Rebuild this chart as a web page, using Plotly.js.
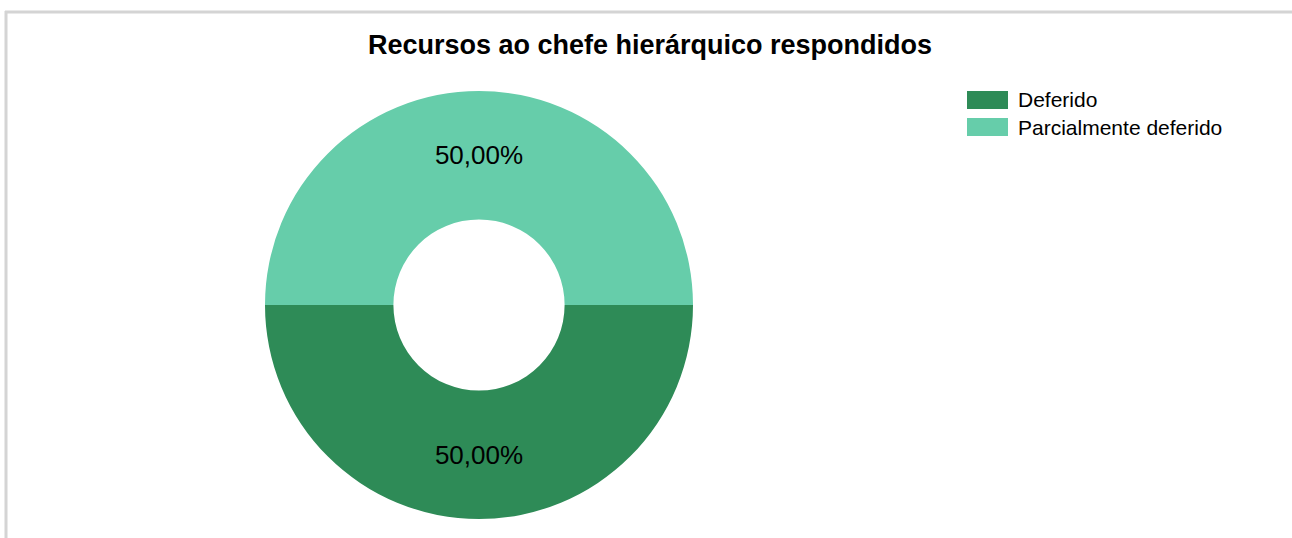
<!DOCTYPE html>
<html>
<head>
<meta charset="utf-8">
<script src="https://cdn.plot.ly/plotly-3.0.1.min.js"></script>
<style>html,body{margin:0;padding:0;background:#fff;}#chart{width:1292px;height:538px;}</style>
</head>
<body>
<div id="chart"></div>
<script>
const labels = ["Deferido", "Parcialmente deferido"];
const values = [1, 1];
const colors = ["#2E8B57", "#66CDAA"];
const chartTitle = "Recursos ao chefe hierárquico respondidos";

const W = 1292, H = 538;
const px = x => x / W;
const py = y => 1 - y / H;
const FONT = "Liberation Sans, Arial, sans-serif";

const shapes = [
  {type: "line", xref: "paper", yref: "paper", x0: px(5), x1: px(1292), y0: py(12), y1: py(12), line: {color: "#d4d4d4", width: 3}},
  {type: "line", xref: "paper", yref: "paper", x0: px(6), x1: px(6), y0: py(11), y1: py(538), line: {color: "#d4d4d4", width: 3}}
];
const annotations = [];
labels.forEach((lab, i) => {
  const yTop = 91 + i * 27;
  shapes.push({type: "rect", xref: "paper", yref: "paper", x0: px(967), x1: px(1008), y0: py(yTop), y1: py(yTop + 18), fillcolor: colors[i], line: {width: 0}});
  annotations.push({xref: "paper", yref: "paper", x: px(1016), y: py(yTop + 9), xanchor: "left", yanchor: "middle", text: lab, showarrow: false, font: {family: FONT, size: 21, color: "#000"}});
});

const trace = {
  type: "pie",
  labels: labels,
  values: values,
  hole: 0.4,
  sort: false,
  direction: "clockwise",
  rotation: 90,
  marker: {colors: colors, line: {width: 0}},
  texttemplate: "%{percent:.2%}",
  textposition: "inside",
  insidetextorientation: "horizontal",
  textfont: {family: FONT, size: 26, color: "#000"},
  domain: {x: [px(265), px(693)], y: [1 - 519 / H, 1 - 91 / H]},
  showlegend: false,
  hoverinfo: "label+percent"
};

const layout = {
  width: W, height: H,
  margin: {l: 0, r: 0, t: 0, b: 0},
  paper_bgcolor: "#fff",
  separators: ",.",
  title: {text: "<b>" + chartTitle + "</b>", x: px(650), xanchor: "center", y: py(45), yanchor: "middle", font: {family: FONT, size: 27, color: "#000"}},
  shapes: shapes,
  annotations: annotations,
  showlegend: false
};

Plotly.newPlot("chart", [trace], layout, {displayModeBar: false, staticPlot: true});
</script>
</body>
</html>
